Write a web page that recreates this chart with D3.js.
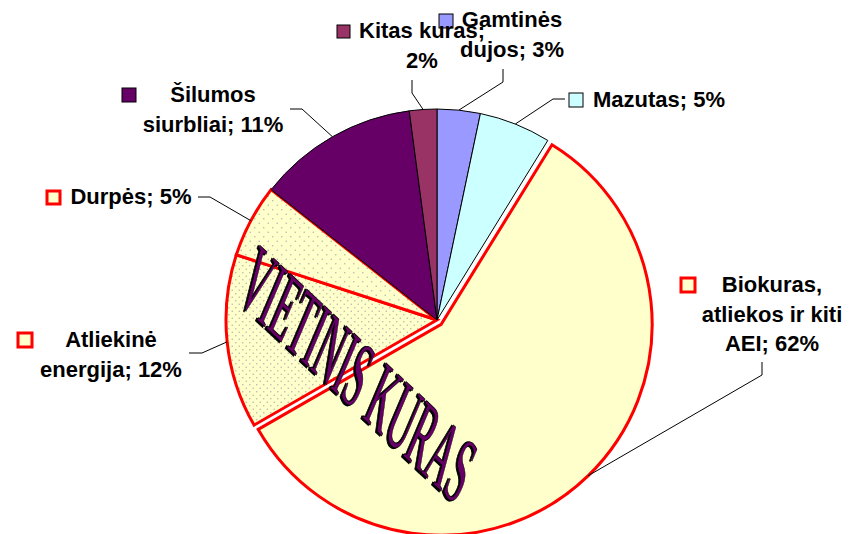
<!DOCTYPE html>
<html>
<head>
<meta charset="utf-8">
<script src="https://cdn.jsdelivr.net/npm/d3@7"></script>
<style>
  body { margin: 0; background: #fff; }
  svg { display: block; }
  .lbl { font-family: "Liberation Sans", Arial, sans-serif; font-weight: bold; font-size: 22px; fill: #000; }
</style>
</head>
<body>
<div id="chart"></div>
<script>
// slices clockwise from 12 o'clock
var categories = ["Gamtinės dujos", "Mazutas", "Biokuras, atliekos ir kiti AEI",
                  "Atliekinė energija", "Durpės", "Šilumos siurbliai", "Kitas kuras"];
// slice sizes (the printed labels are rounded differently)
var shares = [3.3, 5.5, 57.9, 13.3, 5.6, 12.3, 2.1];
var labelText = [
    ["Gamtinės", "dujos; 3%"],
    ["Mazutas; 5%"],
    ["Biokuras,", "atliekos ir kiti", "AEI; 62%"],
    ["Atliekinė", "energija; 12%"],
    ["Durpės; 5%"],
    ["Šilumos", "siurbliai; 11%"],
    ["Kitas kuras;", "2%"]
];
var localFuel = [false, false, true, true, true, false, false];
var wordArt = "VIETINIS KURAS";

var colors = ["#9999ff", "#ccffff", "#ffffcc", "url(#dotsDense)", "url(#dotsSparse)", "#660066", "#993366"];
var keyColors = ["#9999ff", "#ccffff", "#ffffcc", "#ffffcc", "#ffffcc", "#660066", "#993366"];

// label placement: text centre x, first baseline, key square, leader elbow and end
var labelPos = [
    { cx: 512, y: 27, key: [439, 14, 14], elbow: [503, 82], end: [503, 69] },
    { cx: 659, y: 107, key: [569, 93, 14], elbow: [553, 99], end: [565, 99] },
    { cx: 772, y: 292, key: [681, 278, 14], elbow: [762, 375], end: [762, 362] },
    { cx: 111, y: 347, key: [18, 333, 14], elbow: [202, 353], end: [189, 353] },
    { cx: 131, y: 204, key: [47, 191, 13], elbow: [210, 197], end: [198, 197] },
    { cx: 213, y: 102, key: [122, 88, 14], elbow: [302, 109], end: [290, 109] },
    { cx: 422, y: 38, key: [337, 25, 13], elbow: [412, 93], end: [412, 80] }
];

var width = 849, height = 534;
var cx = 437, cy = 320, radius = 211, explode = 6;
var lineH = 29.5;

var svg = d3.select("#chart").append("svg")
    .attr("width", width)
    .attr("height", height);

// dotted fills
var defs = svg.append("defs");
function dotPattern(id, step) {
    var p = defs.append("pattern").attr("id", id)
        .attr("patternUnits", "userSpaceOnUse")
        .attr("width", step).attr("height", step);
    p.append("rect").attr("width", step).attr("height", step).attr("fill", "#ffffcc");
    p.append("circle").attr("cx", step / 4).attr("cy", step / 4).attr("r", 0.8).attr("fill", "#b8b8b0");
    p.append("circle").attr("cx", step * 3 / 4).attr("cy", step * 3 / 4).attr("r", 0.8).attr("fill", "#b8b8b0");
}
dotPattern("dotsDense", 7);
dotPattern("dotsSparse", 9);

var pie = d3.pie().sort(null).value(function (d) { return d; });
var arcs = pie(shares);

var arc = d3.arc().innerRadius(0).outerRadius(radius);

function offsetOf(d, i) {
    if (i !== 2) return [0, 0];
    var a = (d.startAngle + d.endAngle) / 2;
    return [Math.sin(a) * explode, -Math.cos(a) * explode];
}

var g = svg.append("g").attr("transform", "translate(" + cx + "," + cy + ")");

// local fuels first so the dark slices sit over their red edges
var order = [2, 3, 4, 0, 1, 5, 6];
g.selectAll("path.slice")
    .data(order.map(function (i) { return { d: arcs[i], i: i }; }))
    .enter().append("path")
    .attr("class", "slice")
    .attr("transform", function (o) { var off = offsetOf(o.d, o.i); return "translate(" + off[0] + "," + off[1] + ")"; })
    .attr("d", function (o) { return arc(o.d); })
    .attr("fill", function (o) { return colors[o.i]; })
    .attr("stroke", function (o) { return localFuel[o.i] ? "#ff0000" : "#000"; })
    .attr("stroke-width", function (o) { return localFuel[o.i] ? 3 : 1; })
    .attr("stroke-linejoin", "miter");

// leader lines: from the arc at mid-angle to the label
var leader = d3.line();
svg.append("g").selectAll("path")
    .data(arcs)
    .enter().append("path")
    .attr("d", function (d, i) {
        var a = (d.startAngle + d.endAngle) / 2;
        var off = offsetOf(d, i);
        var p0 = [cx + off[0] + Math.sin(a) * radius, cy + off[1] - Math.cos(a) * radius];
        return leader([p0, labelPos[i].elbow, labelPos[i].end]);
    })
    .attr("fill", "none")
    .attr("stroke", "#000")
    .attr("stroke-width", 1);

// labels with legend keys
var lg = svg.append("g").selectAll("g")
    .data(labelText)
    .enter().append("g");

lg.append("rect")
    .attr("x", function (d, i) { return labelPos[i].key[0]; })
    .attr("y", function (d, i) { return labelPos[i].key[1]; })
    .attr("width", function (d, i) { return labelPos[i].key[2]; })
    .attr("height", function (d, i) { return labelPos[i].key[2]; })
    .attr("fill", function (d, i) { return keyColors[i]; })
    .attr("stroke", function (d, i) { return localFuel[i] ? "#ff0000" : "#000"; })
    .attr("stroke-width", function (d, i) { return localFuel[i] ? 3 : 1; });

lg.append("text")
    .attr("class", "lbl")
    .attr("text-anchor", "middle")
    .each(function (lines, i) {
        var t = d3.select(this);
        lines.forEach(function (s, k) {
            t.append("tspan")
                .attr("x", labelPos[i].cx)
                .attr("y", labelPos[i].y + k * lineH)
                .text(s);
        });
    });

// WordArt caption across the local-fuel slices
var wa = svg.append("g")
    .attr("transform", "translate(236,300) rotate(43) skewX(20)");
wa.append("text")
    .attr("x", -1.5).attr("y", 1.5)
    .attr("font-family", "Liberation Serif, Times New Roman, serif")
    .attr("font-size", 86)
    .attr("textLength", 302)
    .attr("lengthAdjust", "spacingAndGlyphs")
    .attr("fill", "#000")
    .attr("stroke", "#000")
    .attr("stroke-width", 1.5)
    .text(wordArt);
wa.append("text")
    .attr("font-family", "Liberation Serif, Times New Roman, serif")
    .attr("font-size", 86)
    .attr("textLength", 302)
    .attr("lengthAdjust", "spacingAndGlyphs")
    .attr("fill", "#660066")
    .attr("stroke", "#000")
    .attr("stroke-width", 0.8)
    .text(wordArt);
</script>
</body>
</html>
